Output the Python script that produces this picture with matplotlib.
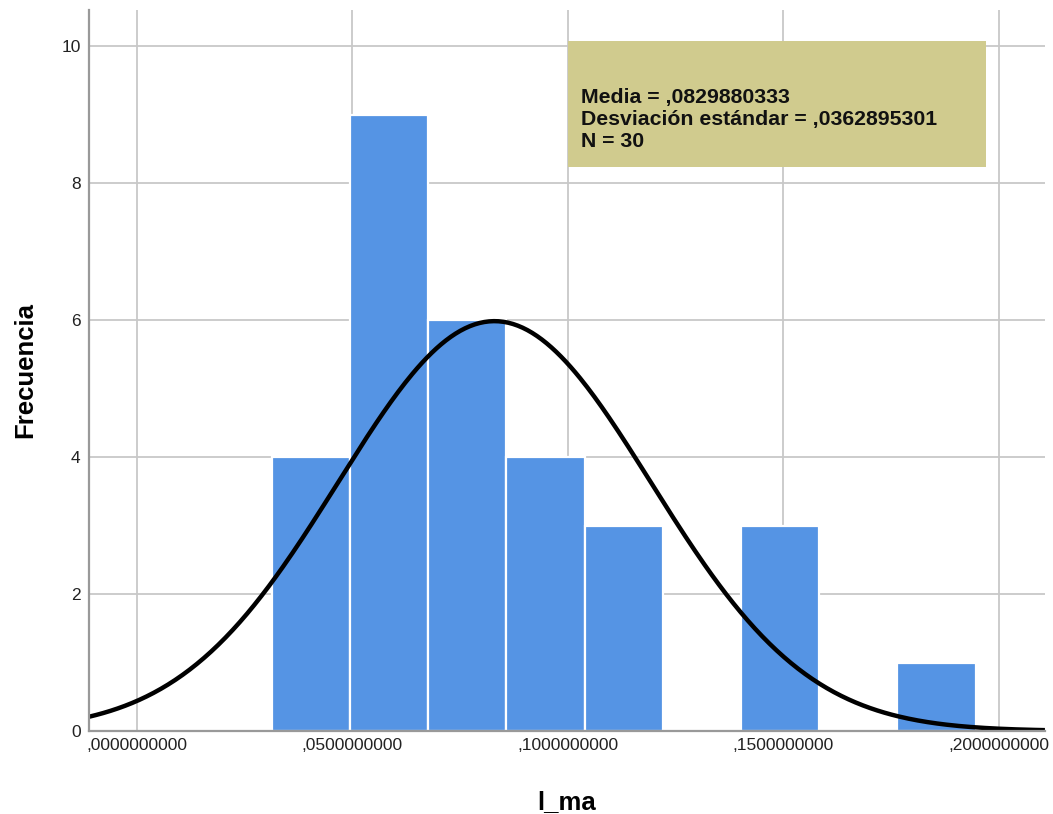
import numpy as np
import matplotlib
matplotlib.use('Agg')
import matplotlib.pyplot as plt
from matplotlib.patches import Rectangle

plt.rcParams['font.family'] = ['Liberation Sans', 'DejaVu Sans']

# histogram data
counts = [4, 9, 6, 4, 3, 0, 3, 0, 1]
bin_start = 0.0313
bin_width = 0.01815
media = 0.0829880333
desv = 0.0362895301
n_total = 30

x_ticks = [0.0, 0.05, 0.10, 0.15, 0.20]
x_tick_labels = [',0000000000', ',0500000000', ',1000000000', ',1500000000', ',2000000000']
y_ticks = [0, 2, 4, 6, 8, 10]

fig = plt.figure(figsize=(10.53, 8.14), dpi=100)
ax = fig.add_axes([0.0845, 0.102, 0.9078, 0.8857])

lefts = [bin_start + i * bin_width for i in range(len(counts))]
ax.bar(lefts, counts, width=bin_width, align='edge', color='#5594E4',
       edgecolor='white', linewidth=1.6, zorder=2)

# normal curve scaled to counts
xs = np.linspace(-0.0111, 0.2107, 400)
ys = n_total * bin_width / (desv * np.sqrt(2 * np.pi)) * np.exp(-0.5 * ((xs - media) / desv) ** 2)
ax.plot(xs, ys, color='black', linewidth=3.2, zorder=3, solid_capstyle='butt')

ax.set_xlim(-0.0111, 0.2107)
ax.set_ylim(0, 10.53)
ax.set_xticks(x_ticks)
ax.set_xticklabels(x_tick_labels)
ax.set_yticks(y_ticks)
ax.tick_params(length=0, labelsize=12.5, labelcolor='#222222')
ax.tick_params(axis='x', pad=5)
ax.tick_params(axis='y', pad=6)
ax.grid(color='#C8C8C8', linewidth=1.3, zorder=0)
ax.set_axisbelow(True)

for side in ['top', 'right']:
    ax.spines[side].set_visible(False)
for side in ['left', 'bottom']:
    ax.spines[side].set_color('#999999')
    ax.spines[side].set_linewidth(1.6)
    ax.spines[side].set_zorder(4)

ax.set_xlabel('l_ma', fontsize=18.5, fontweight='bold', labelpad=27)
ax.set_ylabel('Frecuencia', fontsize=18.5, fontweight='bold', labelpad=17)

# stats box
ax.add_patch(Rectangle((0.501, 0.782), 0.437, 0.175, transform=ax.transAxes,
                       facecolor='#D0CB8E', edgecolor='none', zorder=5))
ax.text(0.5146, 0.848, 'Media = ,0829880333\nDesviación estándar = ,0362895301\nN = 30',
        transform=ax.transAxes, fontsize=15.3, fontweight='bold', va='center',
        ha='left', linespacing=1.2, color='#111111', zorder=6)

fig.savefig('out.png', dpi=100)
